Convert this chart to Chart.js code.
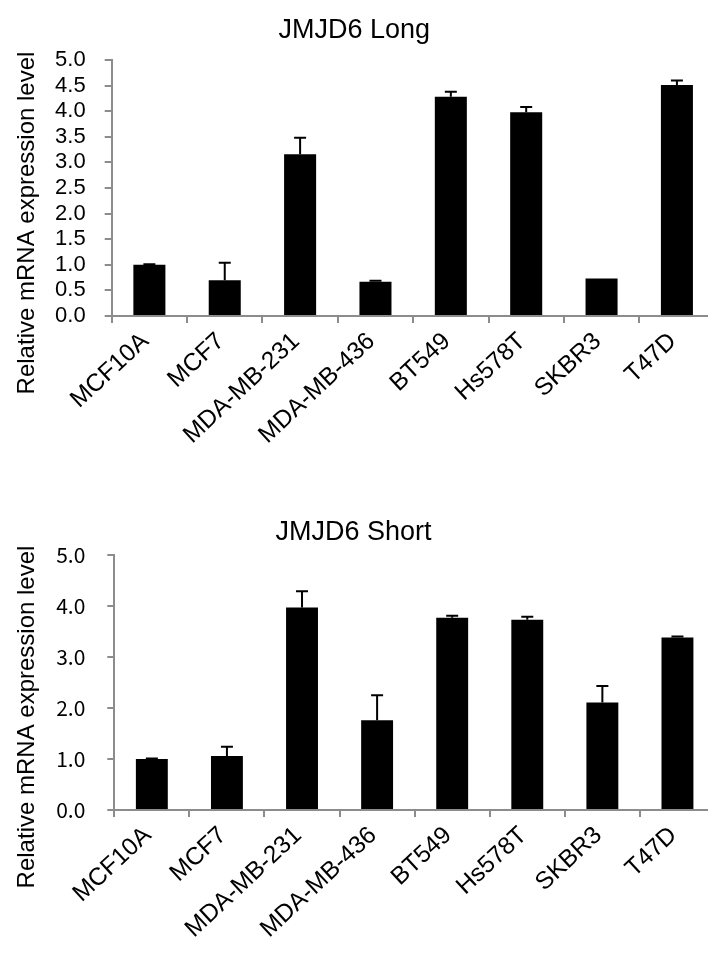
<!DOCTYPE html>
<html>
<head>
<meta charset="utf-8">
<script src="https://cdn.jsdelivr.net/npm/chart.js@4/dist/chart.umd.min.js"></script>
<style>
  html, body { margin: 0; padding: 0; background: #fff; overflow: hidden; }
  #page { position: relative; width: 708px; height: 959px; overflow: hidden; background: #fff; }
  .panel { position: absolute; }
</style>
</head>
<body>
<div id="page">
  <div class="panel" style="left:-6px; top:0; width:724px; height:470px;">
    <canvas id="longChart" width="724" height="470"></canvas>
  </div>
  <div class="panel" style="left:-8px; top:470px; width:724px; height:489px;">
    <canvas id="shortChart" width="724" height="489"></canvas>
  </div>
</div>
<script>
// Cell lines on the category axis
const cellLines = ['MCF10A', 'MCF7', 'MDA-MB-231', 'MDA-MB-436', 'BT549', 'Hs578T', 'SKBR3', 'T47D'];

// JMJD6 long isoform: mean relative expression and upper error
const longMeans  = [1.00, 0.70, 3.16, 0.67, 4.28, 3.98, 0.73, 4.51];
const longErrors = [0.01, 0.34, 0.32, 0.02, 0.10, 0.10, 0.00, 0.09];

// JMJD6 short isoform: mean relative expression and upper error
const shortMeans  = [1.00, 1.06, 3.97, 1.76, 3.77, 3.73, 2.11, 3.38];
const shortErrors = [0.01, 0.18, 0.32, 0.49, 0.04, 0.06, 0.32, 0.02];

const yAxisTitle = 'Relative mRNA expression level';
const axisGrey = '#8c8c8c';

// Upper error bars drawn from each bar's top through the y scale
const errorBarPlugin = {
  id: 'errorBars',
  afterDatasetsDraw(chart, args, opts) {
    const ctx = chart.ctx;
    const yScale = chart.scales.y;
    chart.data.datasets.forEach((ds, di) => {
      const meta = chart.getDatasetMeta(di);
      meta.data.forEach((bar, i) => {
        const err = ds.errors[i];
        if (!err) return;
        const yTop = yScale.getPixelForValue(ds.data[i] + err);
        ctx.save();
        ctx.strokeStyle = opts.color;
        ctx.lineWidth = opts.lineWidth;
        ctx.beginPath();
        ctx.moveTo(bar.x, bar.y);
        ctx.lineTo(bar.x, yTop);
        ctx.moveTo(bar.x - opts.capHalf, yTop);
        ctx.lineTo(bar.x + opts.capHalf, yTop);
        ctx.stroke();
        ctx.restore();
      });
    });
  }
};

// Vertical axis caption placed beside the value axis
const sideTitlePlugin = {
  id: 'sideTitle',
  afterDraw(chart, args, opts) {
    const ctx = chart.ctx;
    ctx.save();
    ctx.translate(opts.x, opts.y);
    ctx.rotate(-Math.PI / 2);
    ctx.font = opts.font;
    ctx.fillStyle = opts.color;
    ctx.textAlign = 'center';
    ctx.textBaseline = 'middle';
    ctx.fillText(opts.text, 0, 0);
    ctx.restore();
  }
};

function buildChart(canvasId, title, means, errors, cfg) {
  return new Chart(document.getElementById(canvasId), {
    type: 'bar',
    data: {
      labels: cellLines,
      datasets: [{
        data: means,
        errors: errors,
        backgroundColor: '#000000',
        borderWidth: 0,
        categoryPercentage: 1.0,
        barPercentage: 0.425
      }]
    },
    options: {
      responsive: false,
      animation: false,
      layout: { padding: { left: 0, right: cfg.rightPad, top: 0, bottom: 0 } },
      plugins: {
        legend: { display: false },
        tooltip: { enabled: false },
        title: {
          display: true,
          text: title,
          color: '#000',
          font: { family: "'Liberation Sans', Arial, sans-serif", size: 27, weight: 'normal', lineHeight: 1.2 },
          padding: { top: cfg.titleTop, bottom: cfg.titleBottom }
        },
        errorBars: { color: '#000', lineWidth: 2, capHalf: 6 },
        sideTitle: {
          text: yAxisTitle,
          x: cfg.sideX,
          y: cfg.sideY,
          font: "24px 'Liberation Sans', Arial, sans-serif",
          color: '#000'
        }
      },
      scales: {
        x: {
          offset: true,
          grid: { offset: true, drawOnChartArea: false, drawTicks: true, tickLength: 7, color: axisGrey, lineWidth: 2 },
          border: { display: true, color: axisGrey, width: 2 },
          ticks: {
            autoSkip: false,
            maxRotation: 43,
            minRotation: 43,
            padding: 4,
            labelOffset: -4,
            color: '#000',
            font: { family: "'Liberation Sans', Arial, sans-serif", size: 24.5 }
          },
          afterFit(scale) { scale.height = cfg.xAxisHeight; }
        },
        y: {
          min: 0,
          max: 5,
          grid: { drawOnChartArea: false, drawTicks: true, tickLength: 7, color: axisGrey, lineWidth: 2 },
          border: { display: true, color: axisGrey, width: 2 },
          ticks: {
            autoSkip: false,
            stepSize: cfg.step,
            padding: cfg.tickPad,
            color: '#000',
            font: cfg.tickFont,
            callback: v => Number(v).toFixed(1)
          },
          afterFit(scale) { scale.width = cfg.yAxisWidth; }
        }
      }
    },
    plugins: [errorBarPlugin, sideTitlePlugin]
  });
}

buildChart('longChart', 'JMJD6 Long', longMeans, longErrors, {
  rightPad: 3.4,
  titleTop: 14.4,
  titleBottom: 13.2,
  xAxisHeight: 154,
  yAxisWidth: 117.7,
  step: 0.5,
  tickPad: 19,
  tickFont: { family: "'Liberation Sans', Arial, sans-serif", size: 22 },
  sideX: 33,
  sideY: 223
});

buildChart('shortChart', 'JMJD6 Short', shortMeans, shortErrors, {
  rightPad: 1,
  titleTop: 46.4,
  titleBottom: 6.2,
  xAxisHeight: 149,
  yAxisWidth: 122.3,
  step: 1,
  tickPad: 22,
  tickFont: { family: "'Noto Sans CJK KR', 'Noto Sans', sans-serif", size: 21 },
  sideX: 35,
  sideY: 247
});
</script>
</body>
</html>
